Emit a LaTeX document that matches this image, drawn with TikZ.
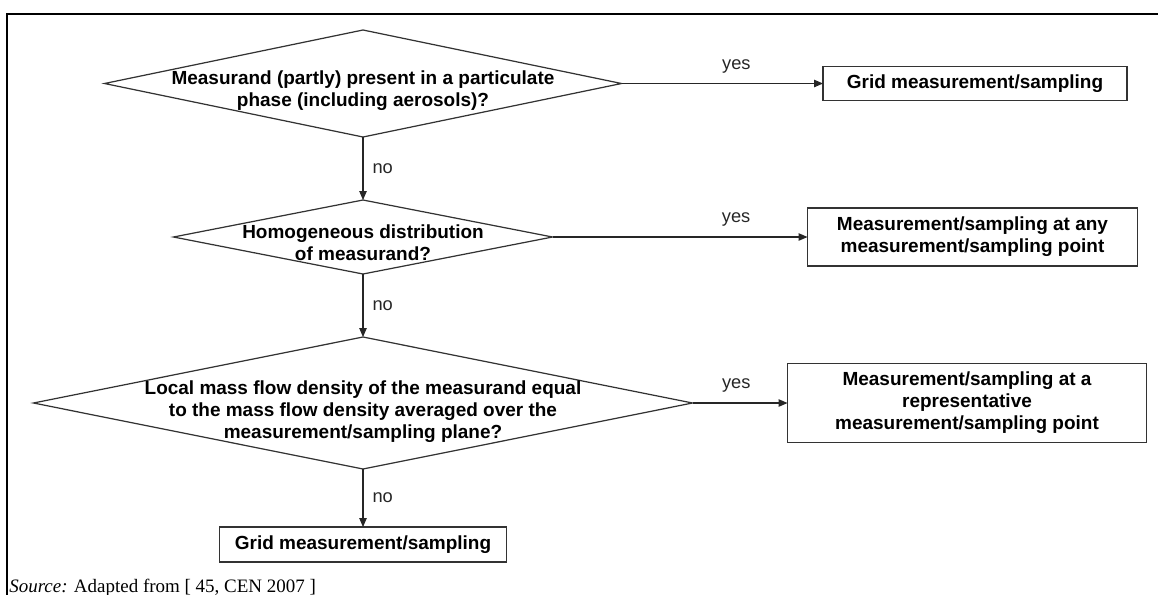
\documentclass[tikz,border=0pt]{standalone}
\usepackage{fontspec}
\setmainfont{Liberation Sans}
\newfontfamily\srcfont{Liberation Serif}
\usetikzlibrary{arrows.meta,positioning,shapes.geometric}

\begin{document}
\begin{tikzpicture}[
  font=\fontsize{10.8}{12.5}\selectfont\bfseries,
  dec/.style={diamond, draw=black!80, inner sep=0pt, outer sep=0pt, line width=0.7pt},
  qtext/.style={align=center, inner sep=0pt},
  box/.style={draw=black!80, align=center, inner sep=2pt, outer sep=0pt, line width=0.65pt},
  arr/.style={-{Triangle[length=1.8mm,width=1.5mm]}, draw=black!85, line width=0.6pt},
  lbl/.style={font=\fontsize{10.4}{12}\selectfont\mdseries, inner sep=0pt, text=black!85},
  node distance=1.26cm
]
\useasboundingbox (0,0) rectangle (23.16,-11.88);

% ---------- Frame ----------
\draw[line width=0.05cm] (0.14,-11.9) |- (23.2,-0.28);

% ---------- Decisions (centre column) ----------
\node[dec, minimum width=10.34cm, minimum height=2.14cm] (q1) at (7.26,-1.67) {};
\node[qtext] (q1txt) at ([yshift=-0.15cm]q1.center) {Measurand (partly) present in a particulate\\phase (including aerosols)?};

\node[dec, minimum width=7.58cm, minimum height=1.48cm, below=of q1] (q2) {};
\node[qtext] (q2txt) at ([yshift=-0.11cm]q2.center) {Homogeneous distribution\\of measurand?};

\node[dec, minimum width=13.18cm, minimum height=2.64cm, below=of q2] (q3) {};
\node[qtext] (q3txt) at ([yshift=-0.17cm]q3.center) {Local mass flow density of the measurand equal\\to the mass flow density averaged over the\\measurement/sampling plane?};

\node[box, minimum width=5.74cm, minimum height=0.7cm, below=1.16cm of q3] (grid2) {Grid measurement/sampling};

% ---------- Outcomes (right column) ----------
\node[box, minimum width=6.08cm, minimum height=0.68cm, right=4.03cm of q1] (grid1) {Grid measurement/sampling};
\node[box, minimum width=6.6cm, minimum height=1.16cm, right=5.1cm of q2] (anypt) {Measurement/sampling at any\\measurement/sampling point};
\node[box, minimum width=7.18cm, minimum height=1.58cm, right=1.9cm of q3] (reppt) {Measurement/sampling at a\\representative\\measurement/sampling point};

% ---------- Arrows: yes ----------
\draw[arr] (q1) -- node[lbl, pos=0.57, above=0.2cm] {yes} (grid1);
\draw[arr] (q2) -- node[lbl, pos=0.72, above=0.2cm] {yes} (anypt);
\draw[arr] (q3) -- node[lbl, pos=0.46, above=0.2cm] {yes} (reppt);

% ---------- Arrows: no ----------
\draw[arr] (q1) -- node[lbl, right=0.18cm] {no} (q2);
\draw[arr] (q2) -- node[lbl, right=0.18cm] {no} (q3);
\draw[arr] (q3) -- node[lbl, right=0.18cm] {no} (grid2);

% ---------- Source ----------
\node[anchor=base west, inner sep=0pt, font=\srcfont\fontsize{10.8}{12}\selectfont] (src) at (0.18,-11.84) {\textit{Source:} Adapted from [ 45, CEN 2007 ]};

\end{tikzpicture}
\end{document}
